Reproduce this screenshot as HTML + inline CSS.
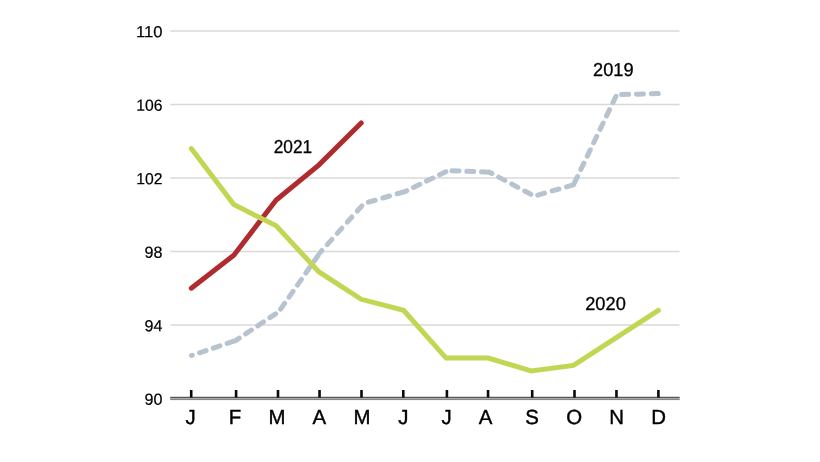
<!DOCTYPE html>
<html><head><meta charset="utf-8"><title>Chart</title>
<style>
html,body{margin:0;padding:0;background:#fff;}
body{width:820px;height:462px;overflow:hidden;}
svg{display:block;}
text{font-family:"Liberation Sans",Arial,sans-serif;fill:#000;text-rendering:geometricPrecision;}
.yl{font-size:16.1px;text-anchor:end;stroke:#000;stroke-width:.2px;}
.ml{font-size:20.4px;text-anchor:middle;stroke:#000;stroke-width:.4px;}
.sl{font-size:18.7px;text-anchor:middle;stroke:#000;stroke-width:.3px;}
</style></head><body>
<svg width="820" height="462" viewBox="0 0 820 462">
<rect width="820" height="462" fill="#fff"/>
<line x1="170.3" x2="679.5" y1="31.00" y2="31.00" stroke="#d9d9d9" stroke-width="1.3"/>
<line x1="170.3" x2="679.5" y1="104.50" y2="104.50" stroke="#d9d9d9" stroke-width="1.3"/>
<line x1="170.3" x2="679.5" y1="178.00" y2="178.00" stroke="#d9d9d9" stroke-width="1.3"/>
<line x1="170.3" x2="679.5" y1="251.50" y2="251.50" stroke="#d9d9d9" stroke-width="1.3"/>
<line x1="170.3" x2="679.5" y1="325.00" y2="325.00" stroke="#d9d9d9" stroke-width="1.3"/>
<rect x="170.3" y="396.85" width="509.2" height="3.2" fill="#9c9c9c"/>
<rect x="170.3" y="396.85" width="509.2" height="1.15" fill="#555"/>
<rect x="170.3" y="398" width="509.2" height="1.1" fill="#ababab"/>
<rect x="170.3" y="399.1" width="509.2" height="0.95" fill="#848484"/>
<line x1="191.2" x2="191.2" y1="390" y2="397.5" stroke="#0a0a0a" stroke-width="2.6"/>
<line x1="236.1" x2="236.1" y1="390" y2="397.5" stroke="#0a0a0a" stroke-width="2.6"/>
<line x1="278.0" x2="278.0" y1="390" y2="397.5" stroke="#0a0a0a" stroke-width="2.6"/>
<line x1="319.55" x2="319.55" y1="390" y2="397.5" stroke="#0a0a0a" stroke-width="2.6"/>
<line x1="361.5" x2="361.5" y1="390" y2="397.5" stroke="#0a0a0a" stroke-width="2.6"/>
<line x1="403.3" x2="403.3" y1="390" y2="397.5" stroke="#0a0a0a" stroke-width="2.6"/>
<line x1="446.9" x2="446.9" y1="390" y2="397.5" stroke="#0a0a0a" stroke-width="2.6"/>
<line x1="488.05" x2="488.05" y1="390" y2="397.5" stroke="#0a0a0a" stroke-width="2.6"/>
<line x1="532.2" x2="532.2" y1="390" y2="397.5" stroke="#0a0a0a" stroke-width="2.6"/>
<line x1="574.5" x2="574.5" y1="390" y2="397.5" stroke="#0a0a0a" stroke-width="2.6"/>
<line x1="616.45" x2="616.45" y1="390" y2="397.5" stroke="#0a0a0a" stroke-width="2.6"/>
<line x1="658.4" x2="658.4" y1="390" y2="397.5" stroke="#0a0a0a" stroke-width="2.6"/>
<text class="yl" transform="translate(162.4,37.30) rotate(0.03) scale(1.03,1)">110</text>
<text class="yl" transform="translate(162.4,110.80) rotate(0.03) scale(0.975,1)">106</text>
<text class="yl" transform="translate(162.4,184.30) rotate(0.03) scale(0.975,1)">102</text>
<text class="yl" transform="translate(162.4,257.80) rotate(0.03) scale(1.0,1)">98</text>
<text class="yl" transform="translate(162.4,331.30) rotate(0.03) scale(1.0,1)">94</text>
<text class="yl" transform="translate(162.4,404.80) rotate(0.03) scale(1.0,1)">90</text>
<text class="ml" x="190.65" y="424.2">J</text>
<text class="ml" x="235" y="424.2">F</text>
<text class="ml" x="277.1" y="424.2">M</text>
<text class="ml" x="319.4" y="424.2">A</text>
<text class="ml" x="362" y="424.2">M</text>
<text class="ml" x="403.4" y="424.2">J</text>
<text class="ml" x="446.6" y="424.2">J</text>
<text class="ml" x="485.6" y="424.2">A</text>
<text class="ml" x="532" y="424.2">S</text>
<text class="ml" x="574.1" y="424.2">O</text>
<text class="ml" x="616.7" y="424.2">N</text>
<text class="ml" x="658.5" y="424.2">D</text>
<g fill="none" stroke="#b7c3cf" stroke-width="5" stroke-linecap="round">
<line x1="191.4" y1="355.5" x2="235.6" y2="340.6" stroke-dasharray="7 7.60" stroke-dashoffset="6.10"/>
<line x1="235.6" y1="340.6" x2="278.8" y2="311.7" stroke-dasharray="7 7.60" stroke-dashoffset="2.60"/>
<line x1="278.8" y1="311.7" x2="320.3" y2="252.3" stroke-dasharray="7 7.70" stroke-dashoffset="11.60"/>
<line x1="320.3" y1="252.3" x2="364" y2="203.5" stroke-dasharray="7 8.00" stroke-dashoffset="4.60"/>
<line x1="364" y1="203.5" x2="405.3" y2="191.4" stroke-dasharray="7 8.00" stroke-dashoffset="10.40"/>
<line x1="405.3" y1="191.4" x2="448.3" y2="170.5" stroke-dasharray="7 7.50" stroke-dashoffset="5.40"/>
<line x1="448.3" y1="170.5" x2="489.5" y2="172.2" stroke-dasharray="7 7.80" stroke-dashoffset="11.10"/>
<line x1="489.5" y1="172.2" x2="534.2" y2="196.1" stroke-dasharray="7 7.75" stroke-dashoffset="4.35"/>
<line x1="534.2" y1="196.1" x2="573.5" y2="184.8" stroke-dasharray="7 8.00" stroke-dashoffset="11.30"/>
<line x1="573.5" y1="184.8" x2="616.7" y2="94.7" stroke-dasharray="7 7.85" stroke-dashoffset="12.75"/>
<line x1="616.7" y1="94.7" x2="658.3" y2="93.5" stroke-dasharray="7 7.85" stroke-dashoffset="9.95"/>
</g>
<polyline points="191.3,288.2 233.8,255.2 276.2,200.1 318.7,165.1 361.2,122.9" fill="none" stroke="#af2b2f" stroke-width="5" stroke-linecap="round" stroke-linejoin="miter"/>
<polyline points="191.3,148.6 233.8,204.6 276.2,225.8 318.7,271.7 361.2,299.3 403.6,310.3 446.1,358.1 488.5,358.1 531.0,370.9 573.5,365.4 615.9,337.9 658.4,310.3" fill="none" stroke="#c3d654" stroke-width="5" stroke-linecap="round" stroke-linejoin="miter"/>
<text class="sl" transform="translate(292.9,152.9) rotate(0.03) scale(0.925,1)">2021</text>
<text class="sl" transform="translate(613.3,76.0) rotate(0.03) scale(0.975,1)">2019</text>
<text class="sl" transform="translate(605.5,309.9) rotate(0.03) scale(0.975,1)">2020</text>
</svg></body></html>
